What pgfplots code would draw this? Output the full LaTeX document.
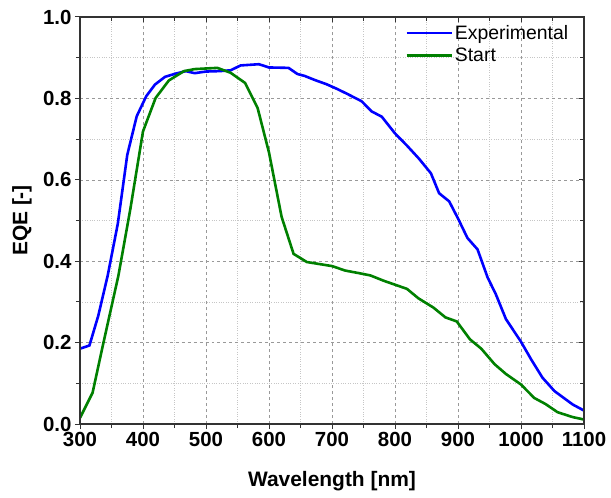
\documentclass[border=0pt]{standalone}
\usepackage{fontspec}
\setmainfont{Liberation Sans}
\usepackage{pgfplots}
\pgfplotsset{compat=1.18}
\usetikzlibrary{calc}
\definecolor{expblue}{RGB}{0,0,255}
\definecolor{startgreen}{RGB}{0,128,0}
\begin{document}
\begin{tikzpicture}
\pgfplotsset{
  common/.style={
    scale only axis, width=504bp, height=407bp,
    xmin=300, xmax=1100, ymin=0, ymax=1,
    xtick={300,400,...,1100}, ytick={0,0.2,...,1.0},
    minor xtick={350,450,...,1050}, minor ytick={0.1,0.3,0.5,0.7,0.9},
    axis line style={line width=1.5bp, black!80},
    major tick length=5bp, minor tick length=4bp,
    every tick/.style={line width=1bp, black!80},
  }
}
\begin{axis}[common, name=ax,
  tick align=outside, xtick pos=bottom, ytick pos=left,
  grid=both,
  major grid style={dashed, gray!80, line width=0.6bp},
  minor grid style={dotted, gray!45, line width=0.6bp},
  /pgf/number format/assume math mode=true,
  ticklabel style={font=\fontsize{20.5}{24}\selectfont\bfseries},
  yticklabel style={/pgf/number format/.cd, fixed, fixed zerofill, precision=1},
  xticklabel style={/pgf/number format/set thousands separator={}},
  xlabel={Wavelength [nm]}, ylabel={EQE [-]},
  label style={font=\fontsize{21}{25}\selectfont\bfseries},
  xlabel style={at={(axis description cs:0.5,0)}, anchor=center, yshift=-57bp},
  ylabel style={at={(axis description cs:-0.115,0.5)}, anchor=center},
  legend style={at={(0.645,0.985)}, anchor=north west, draw=none, fill=none,
    font=\fontsize{19.5}{23}\selectfont, inner sep=0pt, row sep=3bp},
  legend cell align=left,
  legend image code/.code={\draw[#1, line width=2.6bp] (0bp,0bp) -- (45bp,0bp);},
]
\addplot[expblue, line width=2.6bp] coordinates {
(300,0.185) (315,0.193) (329,0.266) (344,0.365) (360,0.492) (375,0.661)
(390,0.756) (405,0.805) (419,0.834) (435,0.853) (452,0.861) (468,0.867)
(482,0.862) (500,0.866) (521,0.867) (539,0.869) (555,0.881) (584,0.884)
(600,0.876) (631,0.875) (645,0.860) (657,0.855) (673,0.845) (691,0.835)
(707,0.824) (723,0.812) (747,0.793) (763,0.768) (779,0.755) (800,0.714)
(819,0.684) (838,0.652) (857,0.616) (870,0.567) (886,0.547) (900,0.505)
(915,0.457) (931,0.429) (947,0.360) (960,0.319) (976,0.258) (1000,0.202)
(1016,0.159) (1034,0.114) (1053,0.081) (1082,0.048) (1100,0.033)
};
\addlegendentry{Experimental}
\addplot[startgreen, line width=2.6bp] coordinates {
(300,0.015) (320,0.077) (335,0.184) (361,0.365) (380,0.529) (400,0.719)
(420,0.801) (441,0.844) (465,0.867) (482,0.872) (518,0.875) (539,0.863)
(562,0.838) (582,0.776) (600,0.667) (620,0.509) (639,0.418) (660,0.398)
(700,0.388) (721,0.377) (745,0.370) (761,0.365) (782,0.352) (819,0.332)
(837,0.309) (861,0.286) (880,0.262) (898,0.252) (919,0.208) (937,0.185)
(958,0.147) (976,0.123) (1000,0.097) (1021,0.064) (1039,0.049) (1058,0.029)
(1082,0.017) (1100,0.011)
};
\addlegendentry{Start}
\end{axis}
\begin{axis}[common, tick align=inside, xtick pos=top, ytick pos=right,
  xticklabels={}, yticklabels={}]
\end{axis}
\pgfresetboundingbox
\path[use as bounding box] ($(ax.south west)+(-80bp,-73bp)$) rectangle ($(ax.north east)+(27bp,17bp)$);
\end{tikzpicture}
\end{document}
